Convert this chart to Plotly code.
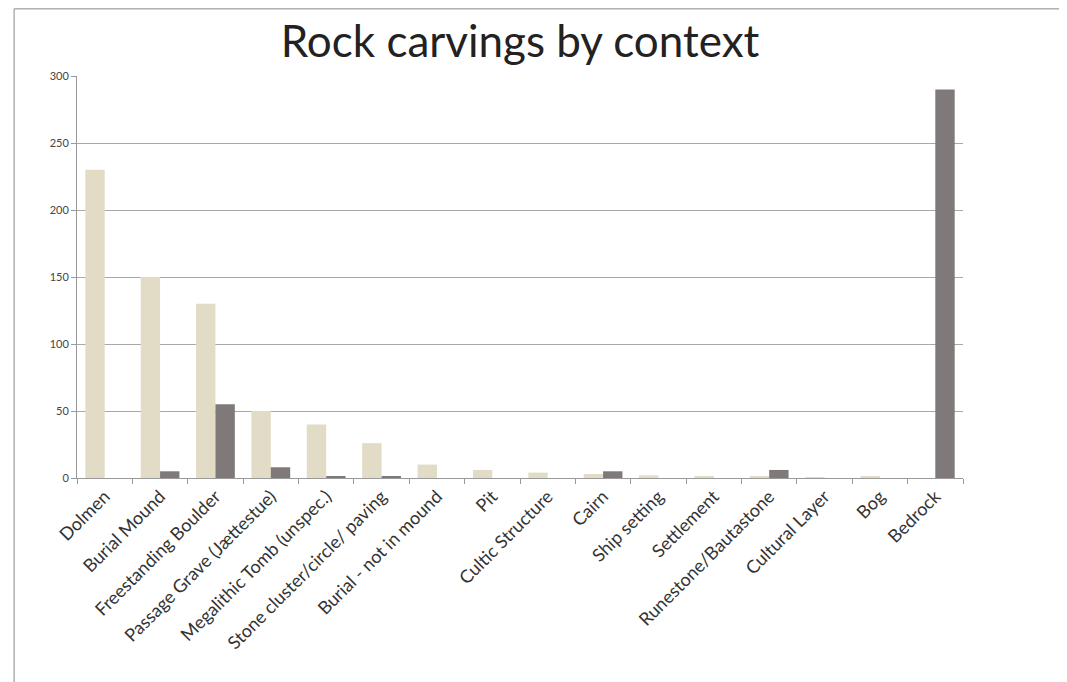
import plotly.graph_objects as go

categories = [
    "Dolmen", "Burial Mound", "Freestanding Boulder", "Passage Grave (Jættestue)",
    "Megalithic Tomb (unspec.)", "Stone cluster/circle/ paving", "Burial - not in mound",
    "Pit", "Cultic Structure", "Cairn", "Ship setting", "Settlement",
    "Runestone/Bautastone", "Cultural Layer", "Bog", "Bedrock",
]
series_a = [230, 150, 130, 50, 40, 26, 10, 6, 4, 3, 2, 1, 1, 0.5, 1, 0]
series_b = [0, 5, 55, 8, 1.5, 1, 0, 0, 0, 5, 0, 0, 6, 0, 0, 290]
y_ticks = [0, 50, 100, 150, 200, 250, 300]

fig = go.Figure()

fig.add_trace(go.Bar(
    x=categories, y=series_a,
    marker=dict(color="#E2DBC5", line=dict(width=0)),
    name="A"
))
fig.add_trace(go.Bar(
    x=categories, y=series_b,
    marker=dict(color="#7F7979", line=dict(width=0)),
    name="B"
))

# page body has an 8px margin, so the figure is sized to fit inside it
fig.update_layout(
    width=1059, height=674,
    margin=dict(l=69, r=104, t=68, b=204),
    paper_bgcolor="white",
    plot_bgcolor="white",
    barmode="group",
    bargap=0.3,
    bargroupgap=0,
    showlegend=False,
    font=dict(family="Lato, Open Sans, sans-serif", color="#444"),
    title=dict(
        text="Rock carvings by context",
        x=0.5, xref="paper", xanchor="center",
        y=0.95, yref="container", yanchor="middle",
        font=dict(size=44, color="#222", family="Lato, Open Sans, sans-serif"),
    ),
    shapes=[dict(
        type="rect", xref="paper", yref="paper",
        x0=-0.071, x1=1.2, y0=-1.2, y1=1.167,
        line=dict(color="#888", width=1),
        fillcolor="rgba(0,0,0,0)",
    )],
)

fig.update_xaxes(
    tickangle=-45,
    tickfont=dict(size=18, color="#333"),
    showline=True, linecolor="#999", linewidth=1,
    ticks="outside", ticklen=5, tickcolor="#999",
    tickson="boundaries",
    showgrid=False,
)
fig.update_yaxes(
    range=[0, 300],
    tickvals=y_ticks,
    tickfont=dict(size=11, color="#444"),
    showline=True, linecolor="#999", linewidth=1,
    ticks="outside", ticklen=5, tickcolor="#999",
    showgrid=True, gridcolor="#A8A8A8", gridwidth=1,
    zeroline=False,
)

fig.write_html("out.html")
